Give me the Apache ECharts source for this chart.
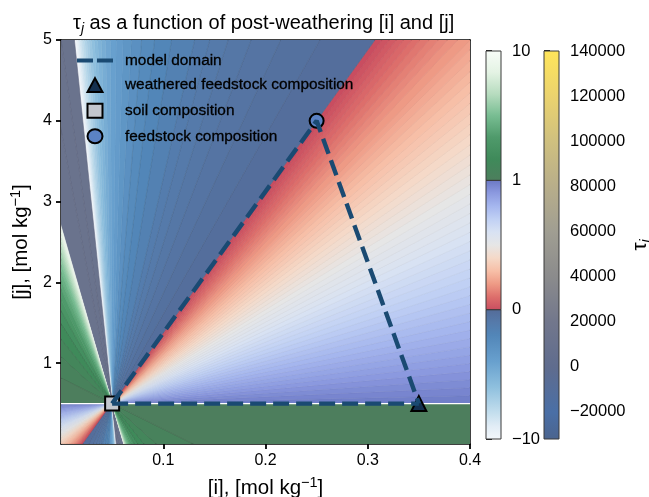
<!DOCTYPE html>
<html>
<head>
<meta charset="utf-8">
<style>html,body{margin:0;padding:0;background:#fff}#c{width:649px;height:497px}</style>
<script src="https://cdn.jsdelivr.net/npm/echarts@6/dist/echarts.min.js"></script>
</head>
<body>
<div id="c"></div>
<script>
// ---- data ----
const soilPoint = [0.05, 0.5];
const feedstockPoint = [0.25, 4];
const weatheredPoint = [0.35, 0.5];
const domainBase = [soilPoint, weatheredPoint];
const domainSides = [soilPoint, feedstockPoint, weatheredPoint];
const xTicks = [0.1, 0.2, 0.3, 0.4];
const yTicks = [1, 2, 3, 4, 5];

// Contour rays through the soil point: where each meets the frame, and tau on it.
const rayI = [0.4,
  0.4,0.4,0.4,0.4,0.4,0.4,0.4,0.4,0.4,0.4,
  0.4,0.4,0.4,0.4,0.4,0.4,0.4,0.4,0.4,0.4,
  0.4,0.4,0.4,0.4,0.4,0.4,0.4,0.4,0.4,0.4,
  0.4,0.4,0.4,0.4,0.4,0.4,0.4,0.4,0.4,
  0.388,0.378,0.369,0.360,0.351,0.343,0.335,0.328,0.321,0.314,0.307,
  0.2533,0.2148,0.1859,0.1634,0.1454,0.1307,0.1081,0.0915,0.0788,0.0688,
  0.0607,0.0540,0.0484,0.0436,0.0395,0.0359,0.0327,0.0299,0.0274,0.0252,
  0.0231,0.0213,0.0196,0.0181,0.0167,0.0154,0.0142,0.0131,
  0,0,0,
  0,0,0,0,0,0,0,0,0,0,0,0,0,0,0,0,0,0];
const rayJ = [0.5,
  0.598,0.696,0.796,0.896,0.997,1.099,1.202,1.305,1.410,1.515,
  1.622,1.729,1.837,1.946,2.056,2.167,2.279,2.392,2.506,2.621,
  2.737,2.854,2.973,3.092,3.212,3.333,3.456,3.579,3.704,3.830,
  3.958,4.086,4.216,4.346,4.478,4.611,4.746,4.882,5,
  5,5,5,5,5,5,5,5,5,5,5,
  5,5,5,5,5,5,5,5,5,5,
  5,5,5,5,5,5,5,5,5,5,
  5,5,5,5,5,5,5,5,
  5,3.89,2.70,
  2.655,2.607,2.555,2.499,2.438,2.371,2.298,2.217,2.128,2.028,1.917,1.792,1.649,1.486,1.298,1.077,0.815,0.5];
const rayTau = [1,
  0.98,0.96,0.94,0.92,0.90,0.88,0.86,0.84,0.82,0.80,
  0.78,0.76,0.74,0.72,0.70,0.68,0.66,0.64,0.62,0.60,
  0.58,0.56,0.54,0.52,0.50,0.48,0.46,0.44,0.42,0.40,
  0.38,0.36,0.34,0.32,0.30,0.28,0.26,0.24,0.22,
  0.20,0.18,0.16,0.14,0.12,0.10,0.08,0.06,0.04,0.02,0,
  -0.2,-0.4,-0.6,-0.8,-1,-1.2,-1.6,-2,-2.4,-2.8,
  -3.2,-3.6,-4,-4.4,-4.8,-5.2,-5.6,-6,-6.4,-6.8,
  -7.2,-7.6,-8,-8.4,-8.8,-9.2,-9.6,-10,
  12000,12000,12000,
  9.5,9,8.5,8,7.5,7,6.5,6,5.5,5,4.5,4,3.5,3,2.5,2,1.5,1];

// Colour scales
const blueTau = [-10,-9,-8,-6,-4,-2,-1,0];
const blueColor = ['#f4f8fc','#e2edf6','#c5dfee','#8fc0de','#68a0ce','#5286b8','#557aaa','#546b98'];
const warmTau = [0,0.1,0.2,0.3,0.4,0.5,0.6,0.7,0.8,0.9,1];
const warmColor = ['#c94d60','#dd6e6b','#ee9a85','#f7bfa7','#f5d9c8','#e6e6e6','#d8e2f3','#c0d0f4','#a5b6ee','#8b99df','#6b78c4'];
const greenTau = [1,2.5,4,5.5,7,8.5,10];
const greenColor = ['#4d7e5d','#3f8a5a','#4f9a6b','#78bd92','#b7dcbf','#e4f3e4','#f8fcf8'];
const wideTau = [-32000,-20000,0,20000,40000,60000,80000,100000,120000,140000];
const wideColor = ['#4b648e','#4a6fa6','#5f6c8e','#72778c','#8b8b8c','#a09e92','#b8ae8a','#cfc07f','#ebd36e','#ffe55a'];

const bar1Ticks = [0, 1, 2, 3];
const bar1Labels = ['\u221210', '0', '1', '10'];
const bar2Ticks = [-20000,0,20000,40000,60000,80000,100000,120000,140000];

// ---- helpers ----
function hex(c){return [1,3,5].map(k=>parseInt(c.slice(k,k+2),16));}
function lerp(xs,cs,t){
  if(t<=xs[0]) return hex(cs[0]);
  for(let k=1;k<xs.length;k++){
    if(t<=xs[k]){
      const f=(t-xs[k-1])/(xs[k]-xs[k-1]), a=hex(cs[k-1]), b=hex(cs[k]);
      return a.map((v,n)=>v+(b[n]-v)*f);
    }
  }
  return hex(cs[cs.length-1]);
}
function rgbOf(t){
  if(t>10||t<-10) return lerp(wideTau,wideColor,t);
  if(t<0) return lerp(blueTau,blueColor,t);
  if(t<1) return lerp(warmTau,warmColor,t);
  return lerp(greenTau,greenColor,t);
}
function edgeShade(t){
  if(t>10) return 0.9;
  if(t>=3.5) return 0.985;
  if(t>=1) return 0.82;
  if(t>=0) return 0.95;
  if(t>=-3) return 0.86;
  return 0.985;
}
const css=(c,m)=>'rgb('+c.map(v=>Math.round(v*(m||1))).join(',')+')';

const wedges=[];
for(let k=0;k<rayI.length-1;k++){
  wedges.push([rayI[k],rayJ[k],rayI[k+1],rayJ[k+1],rayTau[k+1]]);
}
const FAR=20;
function renderWedge(params,api){
  const P=soilPoint;
  const a=[api.value(0)-P[0],api.value(1)-P[1]], b=[api.value(2)-P[0],api.value(3)-P[1]];
  const tau=api.value(4);
  const rgb=rgbOf(tau);
  const p0=api.coord(P);
  const poly=s=>({type:'polygon',silent:true,
    shape:{points:[p0,
      api.coord([P[0]+s*FAR*a[0],P[1]+s*FAR*a[1]]),
      api.coord([P[0]+s*FAR*b[0],P[1]+s*FAR*b[1]])]},
    style:{fill:css(rgb),stroke:css(rgb,edgeShade(tau)),lineWidth:0.6}});
  return {type:'group',children:[poly(1),poly(-1)]};
}
function gradient(xs,cs,lo,hi){
  return {type:'linear',x:0,y:0,x2:0,y2:1,
    colorStops:xs.map((t,k)=>({offset:(hi-t)/(hi-lo),color:cs[k]})).reverse()};
}
function rect(api,y0,y1,fill){
  const a=api.coord([0,y1]), b=api.coord([1,y0]);
  return {type:'rect',shape:{x:a[0],y:a[1],width:b[0]-a[0],height:b[1]-a[1]},
    style:{fill:fill,stroke:'#3a3a3a',lineWidth:1}};
}
const segs=[
  {y0:0,y1:1,fill:gradient(blueTau,blueColor,-10,0)},
  {y0:1,y1:2,fill:gradient(warmTau,warmColor,0,1)},
  {y0:2,y1:3,fill:gradient(greenTau,greenColor,1,10)}
];

const FONT='"Liberation Sans", Arial, sans-serif';
const nameRich={
  n:{fontFamily:FONT,fontSize:20.5,fontWeight:'normal',color:'#000',lineHeight:26},
  s:{fontFamily:FONT,fontSize:14.5,fontWeight:'normal',color:'#000',lineHeight:26,verticalAlign:'top'}
};
// Legend glyphs live in a 43x17 box (zero-length moves pin the box).
const BOX='M0 0L0 0ZM43 17L43 17Z';
const iconDash='path://'+BOX+'M0 6.5H16V10.5H0ZM20 6.5H36V10.5H20Z';
const iconTri='path://'+BOX+'M18 1.5L25.5 15.5H10.5Z';
const iconSquare='path://'+BOX+'M10.5 1.5H25.5V15.5H10.5Z';
const iconCircle='path://'+BOX+'M25.5 8.5A7.5 7 0 1 1 10.5 8.5A7.5 7 0 1 1 25.5 8.5Z';
const dashLine={color:'#1a4a72',width:4.4,type:[16,7],cap:'butt'};

const chart=echarts.init(document.getElementById('c'),null,{renderer:'canvas'});
chart.setOption({
  animation:false,
  backgroundColor:'#fff',
  title:{left:73,top:10,padding:0,
    text:'{n|\u03c4}{j|j}{n| as a function of post-weathering [i] and [j]}',
    textStyle:{fontWeight:'normal',rich:{
      n:{fontFamily:FONT,fontSize:20,fontWeight:'normal',color:'#000',lineHeight:26},
      j:{fontFamily:FONT,fontSize:14,fontWeight:'normal',fontStyle:'italic',color:'#000',lineHeight:26,verticalAlign:'bottom'}
    }}},
  legend:{left:76,top:52,padding:0,orient:'vertical',itemWidth:43,itemHeight:17,itemGap:6.6,
    data:[
      {name:'model domain',icon:iconDash,itemStyle:{color:'#1a4a72',borderWidth:0}},
      {name:'weathered feedstock composition',icon:iconTri},
      {name:'soil composition',icon:iconSquare},
      {name:'feedstock composition',icon:iconCircle}
    ],
    textStyle:{fontFamily:FONT,fontSize:15.4,color:'#000',textBorderColor:'#000',textBorderWidth:0.3},
    selectedMode:false},
  grid:[
    {left:61,top:40,width:409,height:404,outerBoundsMode:'none'},
    {left:486,top:51,width:15,height:388,outerBoundsMode:'none'},
    {left:544,top:51,width:15,height:388,outerBoundsMode:'none'}
  ],
  xAxis:[
    {gridIndex:0,type:'value',min:0,max:0.4,
      splitLine:{show:false},
      name:'{n|[i], [mol kg}{s|\u22121}{n|]}',nameLocation:'middle',nameGap:31,nameTextStyle:{rich:nameRich},
      axisLine:{onZero:false,lineStyle:{color:'#000',width:1.5}},
      axisTick:{show:true,customValues:xTicks,length:5,lineStyle:{color:'#000',width:1.8}},
      axisLabel:{customValues:xTicks,margin:9,formatter:v=>v.toFixed(1),fontFamily:FONT,fontSize:16,color:'#000'}},
    {gridIndex:1,type:'value',min:0,max:1,show:false},
    {gridIndex:2,type:'value',min:0,max:1,show:false},
    {gridIndex:0,type:'value',min:0,max:0.4,position:'top',
      splitLine:{show:false},axisTick:{show:false},axisLabel:{show:false},
      axisLine:{onZero:false,lineStyle:{color:'#000',width:1.5}}}
  ],
  yAxis:[
    {gridIndex:0,type:'value',min:0,max:5,
      splitLine:{show:false},
      name:'{n|[j], [mol kg}{s|\u22121}{n|]}',nameLocation:'middle',nameGap:25,nameTextStyle:{rich:nameRich},
      axisLine:{onZero:false,lineStyle:{color:'#000',width:1.5}},
      axisTick:{show:true,customValues:yTicks,length:5,lineStyle:{color:'#000',width:1.8}},
      axisLabel:{customValues:yTicks,margin:9,fontFamily:FONT,fontSize:16,color:'#000'}},
    {gridIndex:1,type:'value',min:0,max:3,interval:1,position:'right',
      splitLine:{show:false},axisLine:{show:false},
      axisTick:{show:true,customValues:bar1Ticks,length:6,lineStyle:{color:'#000',width:1.8}},
      axisLabel:{customValues:bar1Ticks,margin:11,formatter:v=>bar1Labels[Math.round(v)],fontFamily:FONT,fontSize:16.5,color:'#000'}},
    {gridIndex:2,type:'value',min:-32000,max:140000,position:'right',
      splitLine:{show:false},axisLine:{show:false},
      name:'{n|\u03c4}{j|j}',nameLocation:'middle',nameGap:68,nameRotate:90,
      nameTextStyle:{rich:{
        n:{fontFamily:FONT,fontSize:20.5,fontWeight:'normal',color:'#000',lineHeight:26},
        j:{fontFamily:FONT,fontSize:14,fontWeight:'normal',fontStyle:'italic',color:'#000',lineHeight:26,verticalAlign:'bottom'}
      }},
      axisTick:{show:true,customValues:bar2Ticks,length:6,lineStyle:{color:'#000',width:1.8}},
      axisLabel:{customValues:bar2Ticks,margin:11,formatter:v=>String(v).replace('-','\u2212'),fontFamily:FONT,fontSize:16.5,color:'#000'}},
    {gridIndex:0,type:'value',min:0,max:5,position:'right',
      splitLine:{show:false},axisTick:{show:false},axisLabel:{show:false},
      axisLine:{onZero:false,lineStyle:{color:'#000',width:1.5}}}
  ],
  series:[
    {type:'custom',name:'field',xAxisIndex:0,yAxisIndex:0,clip:true,z:1,silent:true,
      data:wedges,renderItem:renderWedge},
    {type:'line',name:'tau one',xAxisIndex:0,yAxisIndex:0,z:2,silent:true,showSymbol:false,
      data:[[0,0.5],[0.4,0.5]],lineStyle:{color:'#fff',width:1.2}},
    {type:'scatter',name:'weathered feedstock composition',xAxisIndex:0,yAxisIndex:0,z:3,clip:false,
      data:[weatheredPoint],symbol:'triangle',symbolSize:15,
      itemStyle:{color:'#14304f',borderColor:'#000',borderWidth:2,opacity:1}},
    {type:'scatter',name:'soil composition',xAxisIndex:0,yAxisIndex:0,z:3,clip:false,
      data:[soilPoint],symbol:'rect',symbolSize:14,
      itemStyle:{color:'#c3c7ce',borderColor:'#000',borderWidth:2,opacity:1}},
    {type:'scatter',name:'feedstock composition',xAxisIndex:0,yAxisIndex:0,z:3,clip:false,
      data:[feedstockPoint],symbol:'circle',symbolSize:14,
      itemStyle:{color:'#5b82c4',borderColor:'#000',borderWidth:2,opacity:1}},
    {type:'line',name:'model domain',xAxisIndex:0,yAxisIndex:0,z:4,silent:true,showSymbol:false,symbol:'none',
      data:domainBase,lineStyle:dashLine,itemStyle:{color:'#1a4a72'}},
    {type:'line',name:'model domain sides',xAxisIndex:0,yAxisIndex:0,z:4,silent:true,showSymbol:false,symbol:'none',
      data:domainSides,lineStyle:dashLine,itemStyle:{color:'#1a4a72'}},
    {type:'custom',name:'bar1',xAxisIndex:1,yAxisIndex:1,z:2,silent:true,
      data:segs.map((s,k)=>[k]),
      renderItem:(p,api)=>{const s=segs[api.value(0)];return rect(api,s.y0,s.y1,s.fill);}},
    {type:'custom',name:'bar2',xAxisIndex:2,yAxisIndex:2,z:2,silent:true,
      data:[[0]],
      renderItem:(p,api)=>{
        const a=api.coord([0,140000]), b=api.coord([1,-32000]);
        return {type:'rect',shape:{x:a[0],y:a[1],width:b[0]-a[0],height:b[1]-a[1]},
          style:{fill:gradient(wideTau,wideColor,-32000,140000),stroke:'#3a3a3a',lineWidth:1}};
      }}
  ]
});
</script>
</body>
</html>
